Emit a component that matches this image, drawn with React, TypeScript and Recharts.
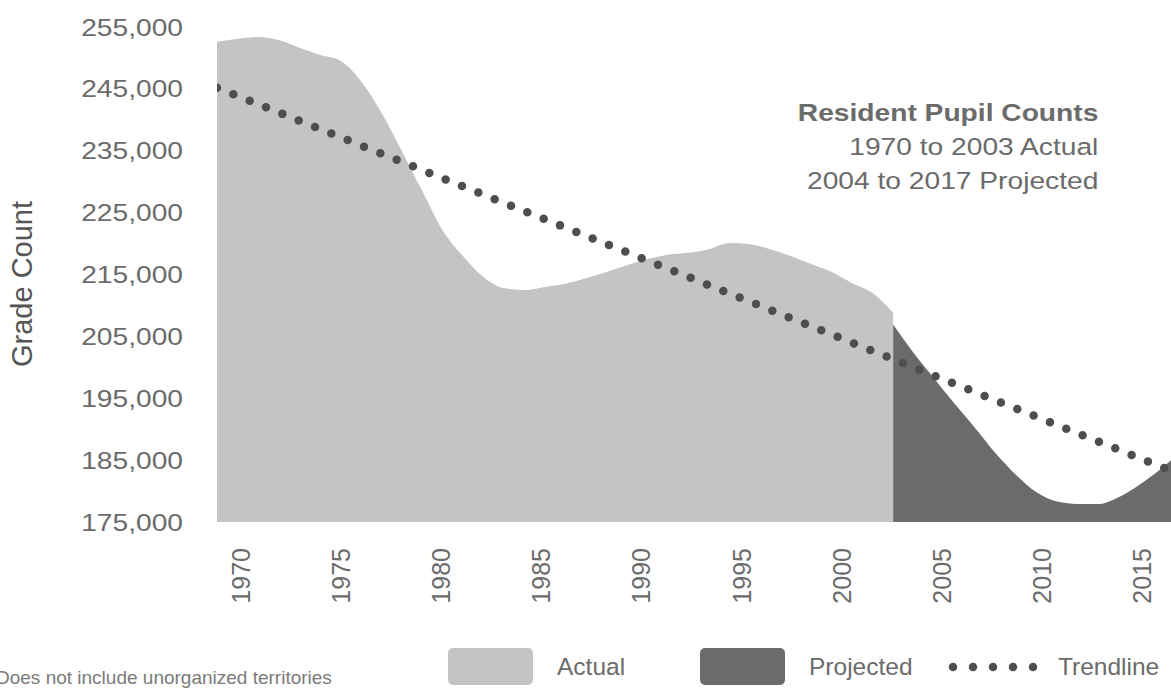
import React from "react";
import { ComposedChart, Area, Line, XAxis, YAxis, Legend } from "recharts";

// resident pupil counts
const actualYears = [
  1970, 1971, 1972, 1973, 1974, 1975, 1976, 1977, 1978, 1979, 1980, 1981,
  1982, 1983, 1984, 1985, 1986, 1987, 1988, 1989, 1990, 1991, 1992, 1993,
  1994, 1995, 1996, 1997, 1998, 1999, 2000, 2001, 2002, 2003,
];
const actualCounts = [
  252600, 253100, 253400, 252900, 251700, 250500, 249600, 246400, 241300,
  235100, 228600, 222200, 218000, 214600, 212800, 212500, 213000, 213500,
  214400, 215400, 216500, 217500, 218200, 218500, 219100, 220100, 219900,
  219100, 218000, 216700, 215400, 213600, 212000, 208800,
];
const projectedYears = [
  2003, 2004, 2005, 2006, 2007, 2008, 2009, 2010, 2011, 2012, 2013, 2014,
  2015, 2016, 2017,
];
const projectedCounts = [
  206900, 202300, 198200, 194100, 190200, 186100, 182600, 179800, 178300,
  177900, 177900, 179000, 181000, 183400, 186300,
];
const trendYears = [1970, 2017];
const trendCounts = [245200, 182700];

const yTicks = [175000, 185000, 195000, 205000, 215000, 225000, 235000, 245000, 255000];
const xTicks = [1970, 1975, 1980, 1985, 1990, 1995, 2000, 2005, 2010, 2015];

const allYears = Array.from(new Set([...actualYears, ...projectedYears, ...trendYears])).sort((a, b) => a - b);
const rows = allYears.map((year) => {
  const a = actualYears.indexOf(year);
  const p = projectedYears.indexOf(year);
  const t = trendYears.indexOf(year);
  return {
    year,
    actual: a >= 0 ? actualCounts[a] : null,
    projected: p >= 0 ? projectedCounts[p] : null,
    trend: t >= 0 ? trendCounts[t] : null,
  };
});

const FONT = '"Liberation Sans", Arial, Helvetica, sans-serif';
const TEXT = "#6b6b6b";
const LIGHT = "#c4c4c4";
const DARK = "#6b6b6b";
const DOTS = "#4e4e4e";

function YTick({ x, y, payload }: any) {
  return (
    <g transform={`translate(${x},${y})`}>
      <text
        x={0}
        y={0}
        dy="0.35em"
        textAnchor="end"
        transform="scale(1.15,1)"
        fontSize={24.5}
        fontFamily={FONT}
        fill={TEXT}
      >
        {Number(payload.value).toLocaleString("en-US")}
      </text>
    </g>
  );
}

function XTick({ x, y, payload }: any) {
  return (
    <text
      x={x}
      y={y}
      transform={`rotate(-90, ${x}, ${y})`}
      textAnchor="end"
      dominantBaseline="central"
      fontSize={25}
      fontFamily={FONT}
      fill={TEXT}
    >
      {payload.value}
    </text>
  );
}

function LegendBox() {
  const label: React.CSSProperties = {
    position: "absolute",
    top: 0,
    height: 37,
    lineHeight: "37px",
    fontSize: 24.5,
    color: TEXT,
    fontFamily: FONT,
    whiteSpace: "nowrap",
  };
  const swatch: React.CSSProperties = { position: "absolute", top: 0, width: 85, height: 37, borderRadius: 5 };
  return (
    <div style={{ position: "relative", width: 720, height: 40 }}>
      <div style={{ ...swatch, left: 0, background: LIGHT }} />
      <div style={{ ...label, left: 109 }}>Actual</div>
      <div style={{ ...swatch, left: 252, background: DARK }} />
      <div style={{ ...label, left: 361 }}>Projected</div>
      <svg style={{ position: "absolute", left: 500, top: 13 }} width={92} height={12}>
        <line x1={5} y1={6} x2={86} y2={6} stroke={DOTS} strokeWidth={8.5} strokeLinecap="round" strokeDasharray="0 20" />
      </svg>
      <div style={{ ...label, left: 610 }}>Trendline</div>
    </div>
  );
}

export default function App() {
  return (
    <div
      style={{
        position: "absolute",
        left: 0,
        top: 0,
        width: 1171,
        height: 688,
        overflow: "hidden",
        background: "#fff",
        fontFamily: FONT,
      }}
    >
      <ComposedChart width={1180} height={688} data={rows} margin={{ top: 27, right: 0, bottom: 0, left: 0 }}>
        <XAxis xAxisId="main" dataKey="year" type="number" domain={[1970, 2017]} allowDataOverflow hide />
        <XAxis
          xAxisId="labels"
          dataKey="year"
          type="number"
          domain={[1968.8, 2016.9]}
          allowDataOverflow
          ticks={xTicks}
          interval={0}
          height={166}
          axisLine={false}
          tickLine={false}
          tickSize={0}
          tickMargin={26}
          tick={<XTick />}
        />
        <YAxis
          type="number"
          domain={[175000, 255000]}
          allowDataOverflow
          ticks={yTicks}
          interval={0}
          width={217}
          axisLine={false}
          tickLine={false}
          tickSize={0}
          tickMargin={34}
          tick={<YTick />}
        />
        <Area
          xAxisId="main"
          type="monotone"
          dataKey="actual"
          name="Actual"
          stroke="none"
          fill={LIGHT}
          fillOpacity={1}
          dot={false}
          activeDot={false}
          isAnimationActive={false}
        />
        <Area
          xAxisId="main"
          type="monotone"
          dataKey="projected"
          name="Projected"
          stroke="none"
          fill={DARK}
          fillOpacity={1}
          dot={false}
          activeDot={false}
          isAnimationActive={false}
        />
        <Line
          xAxisId="main"
          type="linear"
          dataKey="trend"
          name="Trendline"
          connectNulls
          stroke={DOTS}
          strokeWidth={8.5}
          strokeLinecap="round"
          strokeDasharray="0 17.6"
          dot={false}
          activeDot={false}
          isAnimationActive={false}
        />
        <Legend
          layout="horizontal"
          verticalAlign="middle"
          align="center"
          content={() => <LegendBox />}
          wrapperStyle={{ position: "absolute", left: 448, top: 648, width: 720 }}
        />
      </ComposedChart>

      <div
        style={{
          position: "absolute",
          right: 73,
          top: 96,
          textAlign: "right",
          fontSize: 24.5,
          lineHeight: "34px",
          color: TEXT,
          transform: "scaleX(1.15)",
          transformOrigin: "right",
          whiteSpace: "nowrap",
        }}
      >
        <div style={{ fontWeight: "bold" }}>Resident Pupil Counts</div>
        <div>1970 to 2003 Actual</div>
        <div>2004 to 2017 Projected</div>
      </div>

      <div
        style={{
          position: "absolute",
          left: 22,
          top: 284,
          transform: "translate(-50%, -50%) rotate(-90deg)",
          fontSize: 29,
          color: "#555",
          whiteSpace: "nowrap",
        }}
      >
        Grade Count
      </div>

      <div
        style={{
          position: "absolute",
          left: -4,
          top: 668,
          fontSize: 19,
          lineHeight: "19px",
          color: "#7a7a7a",
          whiteSpace: "nowrap",
        }}
      >
        Does not include unorganized territories
      </div>
    </div>
  );
}
